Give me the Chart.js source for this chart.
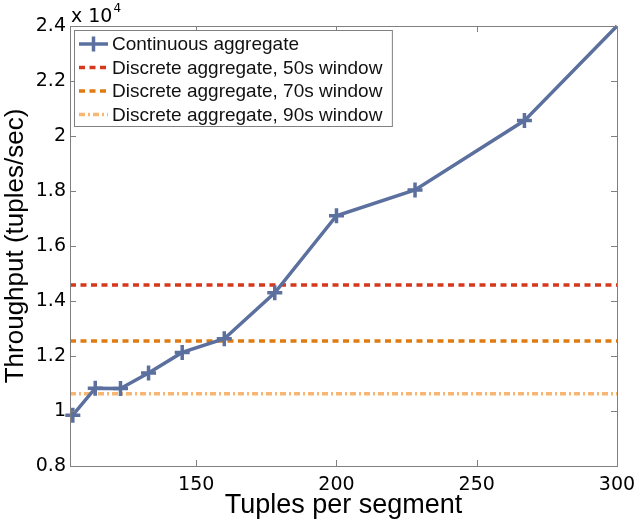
<!DOCTYPE html>
<html lang="en">
<head>
    <meta charset="UTF-8">
    <title>Throughput vs tuples per segment</title>
    <style>
        body { margin: 0; background: #fff; }
        #wrap { width: 636px; height: 522px; }
    </style>
</head>
<body>
<div id="wrap"><canvas id="chart" width="636" height="522"></canvas></div>

<script src="https://cdn.jsdelivr.net/npm/chart.js"></script>
<script>
    // data
    const tuplesPerSegment = [106, 114, 123, 133, 145, 160, 178, 200, 228, 267, 300];
    const continuousThroughput = [9850, 10830, 10820, 11380, 12130, 12630, 14300, 17100, 18040, 20560, 24000];
    const windowLabels = ['Discrete aggregate, 50s window', 'Discrete aggregate, 70s window', 'Discrete aggregate, 90s window'];
    const windowThroughput = [14580, 12550, 10630];
    const xRange = [105, 300];
    const xTicks = [150, 200, 250, 300];
    const yTicks = [8000, 10000, 12000, 14000, 16000, 18000, 20000, 22000, 24000];

    const lineBlue = '#5b709e';
    const windowColors = ['#d4381d', '#de7c12', '#f7b671'];
    const windowDashes = [[6, 4.5], [6, 4.5], [6, 3, 2, 3]];
    const boxColor = '#808080';

    const datasets = [{
        label: 'Continuous aggregate',
        data: tuplesPerSegment.map((x, i) => ({ x: x, y: continuousThroughput[i] })),
        borderColor: lineBlue,
        backgroundColor: lineBlue,
        borderWidth: 3.5,
        pointStyle: 'cross',
        pointRadius: ctx => ctx.dataIndex === tuplesPerSegment.length - 1 ? 0 : 7.5,
        pointBorderWidth: 3.5,
        pointBorderColor: lineBlue,
        clip: false,
        order: 0
    }];
    windowLabels.forEach((lbl, i) => {
        datasets.push({
            label: lbl,
            data: xRange.map(x => ({ x: x, y: windowThroughput[i] })),
            borderColor: windowColors[i],
            borderWidth: 3.5,
            borderDash: windowDashes[i],
            pointRadius: 0,
            order: 1
        });
    });

    // MATLAB style box with inward ticks, legend and exponent label
    const matlabFrame = {
        id: 'matlabFrame',
        afterDraw(chart) {
            const ctx = chart.ctx;
            const a = chart.chartArea;
            const xs = chart.scales.x, ys = chart.scales.y;
            ctx.save();
            ctx.strokeStyle = boxColor;
            ctx.lineWidth = 1;
            ctx.strokeRect(a.left + 0.5, a.top + 0.5, a.right - a.left, a.bottom - a.top);
            ctx.beginPath();
            const tl = 6;
            xTicks.forEach(v => {
                const px = Math.round(xs.getPixelForValue(v)) + 0.5;
                ctx.moveTo(px, a.bottom); ctx.lineTo(px, a.bottom - tl);
                ctx.moveTo(px, a.top); ctx.lineTo(px, a.top + tl);
            });
            yTicks.forEach(v => {
                const py = Math.round(ys.getPixelForValue(v)) + 0.5;
                ctx.moveTo(a.left, py); ctx.lineTo(a.left + tl, py);
                ctx.moveTo(a.right, py); ctx.lineTo(a.right - tl, py);
            });
            ctx.stroke();

            // exponent
            ctx.fillStyle = '#000';
            ctx.textBaseline = 'alphabetic';
            ctx.textAlign = 'left';
            ctx.font = '19px "DejaVu Sans"';
            ctx.fillText('x 10', a.left + 1, 22);
            const w = ctx.measureText('x 10').width;
            ctx.font = '12px "DejaVu Sans"';
            ctx.fillText('4', a.left + 2 + w, 12);

            // legend
            ctx.font = '19px "Liberation Sans"';
            const textX = 112;
            let maxW = 0;
            datasets.forEach(d => { maxW = Math.max(maxW, ctx.measureText(d.label).width); });
            const bx = a.left + 4.5, by = 30.5;
            const bw = textX + maxW + 10 - bx, bh = 96;
            ctx.fillStyle = '#fff';
            ctx.fillRect(bx, by, bw, bh);
            ctx.strokeStyle = boxColor;
            ctx.lineWidth = 1;
            ctx.strokeRect(bx, by, bw, bh);
            datasets.forEach((d, i) => {
                const cy = 44 + i * 23.5;
                ctx.save();
                ctx.strokeStyle = d.borderColor;
                ctx.lineWidth = d.borderWidth;
                ctx.setLineDash(d.borderDash || []);
                ctx.beginPath();
                ctx.moveTo(79, cy); ctx.lineTo(108, cy);
                ctx.stroke();
                if (i === 0) {
                    ctx.setLineDash([]);
                    ctx.beginPath();
                    ctx.moveTo(93.5, cy - 7.5); ctx.lineTo(93.5, cy + 7.5);
                    ctx.stroke();
                }
                ctx.restore();
                ctx.fillStyle = '#111';
                ctx.textBaseline = 'middle';
                ctx.fillText(d.label, textX, cy + 1);
            });
            ctx.restore();
        }
    };

    new Chart(document.getElementById('chart'), {
        type: 'line',
        data: { datasets: datasets },
        options: {
            responsive: false,
            animation: false,
            devicePixelRatio: 1,
            layout: { padding: { top: 26, right: 19, left: 0, bottom: 0 } },
            plugins: { legend: { display: false }, tooltip: { enabled: false } },
            scales: {
                x: {
                    type: 'linear',
                    min: xRange[0],
                    max: xRange[1],
                    afterBuildTicks: s => { s.ticks = xTicks.map(v => ({ value: v })); },
                    afterFit: s => { s.height = 56; s.paddingLeft = 0; s.paddingRight = 0; },
                    grid: { display: false, drawTicks: false },
                    border: { display: false },
                    ticks: { color: '#000', font: { family: 'DejaVu Sans', size: 19 }, padding: 8, maxRotation: 0 },
                    title: {
                        display: true,
                        text: 'Tuples per segment',
                        color: '#000',
                        font: { family: 'Liberation Sans', size: 27 },
                        padding: { top: 0, bottom: 0 }
                    }
                },
                y: {
                    type: 'linear',
                    min: yTicks[0],
                    max: yTicks[yTicks.length - 1],
                    afterBuildTicks: s => { s.ticks = yTicks.map(v => ({ value: v })); },
                    afterFit: s => { s.width = 70; s.paddingTop = 0; s.paddingBottom = 0; },
                    grid: { display: false, drawTicks: false },
                    border: { display: false },
                    ticks: {
                        color: '#000',
                        font: { family: 'DejaVu Sans', size: 19 },
                        padding: 4,
                        callback: v => String(parseFloat((v / 1e4).toFixed(1)))
                    },
                    title: {
                        display: true,
                        text: 'Throughput (tuples/sec)',
                        color: '#000',
                        font: { family: 'Liberation Sans', size: 26 },
                        padding: { top: 0, bottom: 0 }
                    }
                }
            }
        },
        plugins: [matlabFrame]
    });
</script>
</body>
</html>
